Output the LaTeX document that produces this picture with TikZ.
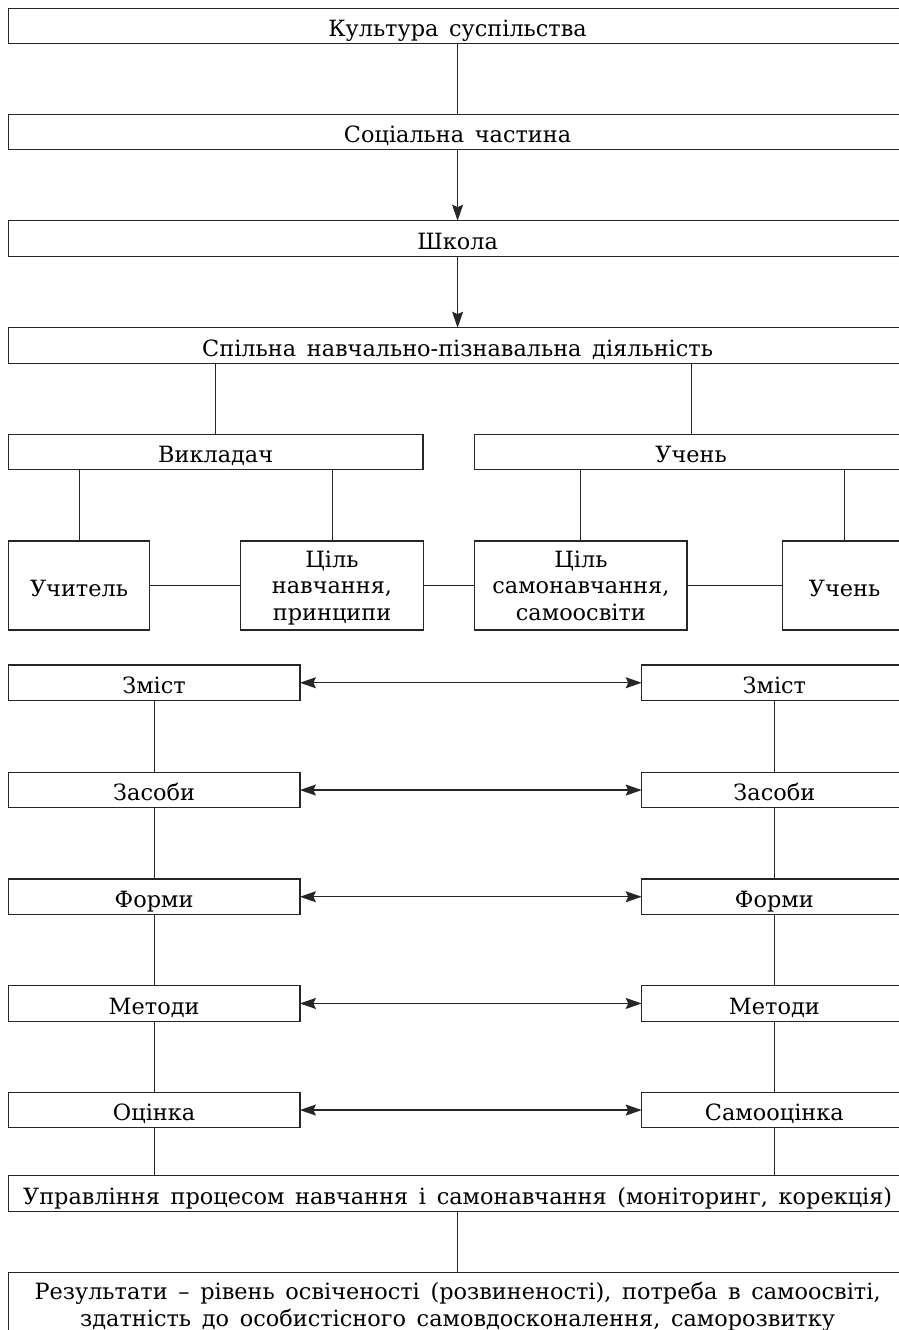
\documentclass[tikz,border=0pt]{standalone}
\usepackage{fontspec}
\setmainfont[WordSpace=1.5]{DejaVu Serif}
\usetikzlibrary{arrows.meta}
\begin{document}
\begin{tikzpicture}[x=1pt,y=-1pt,
    box/.style={draw=black!85, line width=1.3pt, inner sep=0pt, outer sep=0pt, anchor=north west,
      minimum height=35.5pt, align=center, font=\fontsize{22.4}{26.7}\selectfont},
    low/.style={text height=21.5pt, text depth=0pt},
    tall/.style={minimum height=89pt, text depth=0pt},
    link/.style={draw=black!85, line width=0.9pt},
    arr/.style={link, -{Stealth[length=16pt,width=11pt,inset=2.5pt]}},
    dbl/.style={link, line width=1.2pt, {Stealth[length=16pt,width=11pt,inset=2.5pt]}-{Stealth[length=16pt,width=11pt,inset=2.5pt]}}]
    \useasboundingbox (0,0) rectangle (899,1330);
    \clip (0,0) rectangle (899,1330);
    % upper chain
    \node[box, low, minimum width=898.6pt] (kult) at (8.3,8.3) {Культура суспільства};
    \node[box, low, minimum width=898.6pt] (soc) at (8.3,114.3) {Соціальна частина};
    \node[box, low, minimum width=898.6pt] (shkola) at (8.3,220.7) {Школа};
    \node[box, low, minimum width=898.6pt] (spilna) at (8.3,327.7) {Спільна навчально-пізнавальна діяльність};
    \node[box, low, minimum width=414.7pt] (vykl) at (8.3,434.3) {Викладач};
    \node[box, low, minimum width=432.4pt] (uchen) at (474.8,434.3) {Учень};
    \node[box, low, minimum width=141.4pt, minimum height=89pt] (uchytel) at (8.3,541) {Учитель};
    \node[box, tall, minimum width=182.4pt] (tsilnavch) at (240.8,541) {Ціль\\навчання,\\принципи};
    \node[box, tall, minimum width=212.2pt] (tsilsamo) at (474.8,541) {Ціль\\самонавчання,\\самоосвіти};
    \node[box, low, minimum width=123.8pt, minimum height=89pt] (uchnvl) at (782.7,541) {Учень};
    % two columns
    \node[box, low, minimum width=291.6pt] (zmistL) at (8.3,665) {Зміст};
    \node[box, low, minimum width=265.3pt] (zmistR) at (641.7,665) {Зміст};
    \node[box, low, minimum width=291.6pt] (zasobyL) at (8.3,772.3) {Засоби};
    \node[box, low, minimum width=265.3pt] (zasobyR) at (641.7,772.3) {Засоби};
    \node[box, low, minimum width=291.6pt] (formyL) at (8.3,879) {Форми};
    \node[box, low, minimum width=265.3pt] (formyR) at (641.7,879) {Форми};
    \node[box, low, minimum width=291.6pt] (metodyL) at (8.3,985.7) {Методи};
    \node[box, low, minimum width=265.3pt] (metodyR) at (641.7,985.7) {Методи};
    \node[box, low, minimum width=291.6pt] (otsinka) at (8.3,1092.3) {Оцінка};
    \node[box, low, minimum width=265.3pt] (samoots) at (641.7,1092.3) {Самооцінка};
    % bottom
    \node[box, low, minimum width=898.6pt] (uprav) at (8.3,1175.7) {Управління процесом навчання і самонавчання (моніторинг, корекція)};
    \node[box, minimum width=898.6pt, minimum height=69pt] (rez) at (8.3,1272.3) {Результати – рівень освіченості (розвиненості), потреба в самоосвіті,\\здатність до особистісного самовдосконалення, саморозвитку};
    % connectors
    \draw[link] (kult) -- (soc);
    \draw[arr] (soc) -- (shkola);
    \draw[arr] (shkola) -- (spilna);
    \draw[link] (vykl.north |- spilna.south) -- (vykl.north);
    \draw[link] (uchen.north |- spilna.south) -- (uchen.north);
    \draw[link] (uchytel.north) -- (uchytel.north |- vykl.south);
    \draw[link] (tsilnavch.north) -- (tsilnavch.north |- vykl.south);
    \draw[link] (tsilsamo.north) -- (tsilsamo.north |- uchen.south);
    \draw[link] (uchnvl.north) -- (uchnvl.north |- uchen.south);
    \draw[link] (uchytel) -- (tsilnavch);
    \draw[link] (tsilnavch) -- (tsilsamo);
    \draw[link] (tsilsamo) -- (uchnvl);
    \draw[dbl] (zmistL) -- (zmistR);
    \draw[dbl] (zasobyL) -- (zasobyR);
    \draw[dbl] (formyL) -- (formyR);
    \draw[dbl] (metodyL) -- (metodyR);
    \draw[dbl] (otsinka) -- (samoots);
    \draw[link] (zmistL) -- (zasobyL);
    \draw[link] (zasobyL) -- (formyL);
    \draw[link] (formyL) -- (metodyL);
    \draw[link] (metodyL) -- (otsinka);
    \draw[link] (zmistR) -- (zasobyR);
    \draw[link] (zasobyR) -- (formyR);
    \draw[link] (formyR) -- (metodyR);
    \draw[link] (metodyR) -- (samoots);
    \draw[link] (otsinka.south) -- (otsinka.south |- uprav.north);
    \draw[link] (samoots.south) -- (samoots.south |- uprav.north);
    \draw[link] (uprav) -- (rez);
\end{tikzpicture}
\end{document}
